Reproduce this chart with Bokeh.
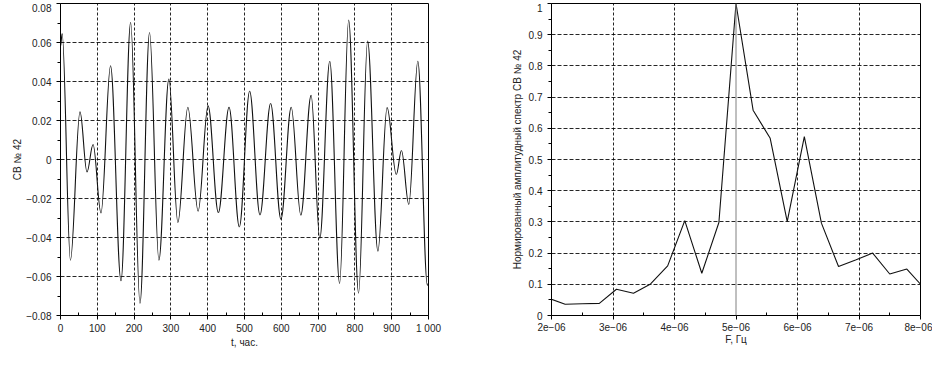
import numpy as np
from bokeh.plotting import figure
from bokeh.layouts import row
from bokeh.models import FixedTicker, CustomJSTickFormatter, Span, Range1d
from bokeh.embed import file_html
from bokeh.resources import INLINE

# ---------------- data ----------------
# Left panel: turning points of the series "СВ № 42" (time in hours, value)
t_hours = [0, 4.5, 27, 53, 72, 88.5, 110, 136, 164.4, 190.6, 216, 242, 267.4,
           294.5, 319, 346, 374, 401, 429, 458, 486, 514, 542, 571, 599, 627,
           653, 681, 704.6, 731.7, 758.5, 783, 810, 834.5, 862.5, 887.5, 912.5,
           926.5, 946.5, 971, 997, 1000]
sv42 = [0.058, 0.0646, -0.0516, 0.0244, -0.0064, 0.0077, -0.0274, 0.048,
        -0.0622, 0.0703, -0.0738, 0.0651, -0.0516, 0.0412, -0.0323, 0.0268,
        -0.0265, 0.0275, -0.0272, 0.0268, -0.0345, 0.035, -0.0284, 0.0287,
        -0.0306, 0.0268, -0.0285, 0.0329, -0.0404, 0.0504, -0.0635, 0.0715,
        -0.0685, 0.0607, -0.047, 0.0266, -0.0077, 0.0046, -0.023, 0.0504,
        -0.0644, -0.0635]

# Right panel: normalised amplitude spectrum
freq_hz = [1.944e-6, 2.222e-6, 2.5e-6, 2.778e-6, 3.056e-6, 3.333e-6, 3.611e-6,
           3.889e-6, 4.167e-6, 4.444e-6, 4.722e-6, 5.0e-6, 5.278e-6, 5.556e-6,
           5.833e-6, 6.111e-6, 6.389e-6, 6.667e-6, 6.944e-6, 7.222e-6, 7.5e-6,
           7.778e-6, 8.056e-6]
spectrum = [0.056, 0.036, 0.0375, 0.039, 0.084, 0.0715, 0.101, 0.159, 0.304,
            0.1355, 0.298, 1.0, 0.658, 0.568, 0.301, 0.573, 0.296, 0.157,
            0.178, 0.2, 0.133, 0.149, 0.088]
peak_freq = 5.0e-6

# ticks and labels
lx_ticks = [0, 100, 200, 300, 400, 500, 600, 700, 800, 900, 1000]
lx_labels = ["0", "100", "200", "300", "400", "500", "600", "700", "800", "900", "1 000"]
ly_ticks = [-0.08, -0.06, -0.04, -0.02, 0.0, 0.02, 0.04, 0.06, 0.08]
ly_labels = ["\u22120.08", "\u22120.06", "\u22120.04", "\u22120.02", "0", "0.02", "0.04", "0.06", "0.08"]
rx_ticks = [2e-6, 3e-6, 4e-6, 5e-6, 6e-6, 7e-6, 8e-6]
rx_labels = ["2e\u221206", "3e\u221206", "4e\u221206", "5e\u221206", "6e\u221206", "7e\u221206", "8e\u221206"]
ry_ticks = [0.0, 0.1, 0.2, 0.3, 0.4, 0.5, 0.6, 0.7, 0.8, 0.9, 1.0]
ry_labels = ["0", "0.1", "0.2", "0.3", "0.4", "0.5", "0.6", "0.7", "0.8", "0.9", "1"]

FONT = "Liberation Sans"
TXT = "#222222"


def midpoints(ticks):
    return [(a + b) / 2 for a, b in zip(ticks[:-1], ticks[1:])]


def fmt(ticks, labels):
    return CustomJSTickFormatter(args=dict(tvals=ticks, tlabels=labels), code="""
        for (let i = 0; i < tvals.length; i++) {
            if (Math.abs(tvals[i] - tick) <= 1e-9 * Math.max(Math.abs(tvals[i]), 1e-12)) return tlabels[i];
        }
        return "";
    """)


def style(p, xt, xl, yt, yl, xlabel, ylabel, xgrid, ygrid, ylab_standoff):
    p.background_fill_color = "white"
    p.border_fill_color = "white"
    p.outline_line_color = "black"
    p.outline_line_width = 1
    p.outline_line_alpha = 1
    xa, ya = p.xaxis[0], p.yaxis[0]
    xa.ticker = FixedTicker(ticks=xt, minor_ticks=midpoints(xt))
    ya.ticker = FixedTicker(ticks=yt, minor_ticks=midpoints(yt))
    xa.formatter = fmt(xt, xl)
    ya.formatter = fmt(yt, yl)
    for ax in (xa, ya):
        ax.axis_line_color = "black"
        ax.major_tick_line_color = "black"
        ax.minor_tick_line_color = "black"
        ax.major_label_text_font = FONT
        ax.major_label_text_font_size = "10px"
        ax.major_label_text_color = TXT
        ax.axis_label_text_font = FONT
        ax.axis_label_text_font_size = "10px"
        ax.axis_label_text_font_style = "normal"
        ax.axis_label_text_color = TXT
        ax.major_tick_in = 0
        ax.major_tick_out = 4
    xa.minor_tick_in = 3
    xa.minor_tick_out = 0
    ya.minor_tick_in = 0
    ya.minor_tick_out = 3
    xa.major_label_standoff = 3
    ya.major_label_standoff = 5
    xa.axis_label = xlabel
    ya.axis_label = ylabel
    xa.axis_label_standoff = 0
    ya.axis_label_standoff = ylab_standoff
    p.xgrid.ticker = FixedTicker(ticks=xgrid)
    p.ygrid.ticker = FixedTicker(ticks=ygrid)
    p.xgrid.grid_line_color = "black"
    p.xgrid.grid_line_dash = "3 2"
    p.xgrid.grid_line_alpha = 0.85
    p.ygrid.grid_line_color = "black"
    p.ygrid.grid_line_dash = "4 2"
    p.ygrid.grid_line_alpha = 0.85


# ---------------- left panel ----------------
p1 = figure(frame_width=368, frame_height=312,
            x_range=Range1d(0, 1000), y_range=Range1d(-0.08, 0.08),
            output_backend="svg", toolbar_location=None,
            min_border_left=40, min_border_right=15,
            min_border_top=0, min_border_bottom=45)
style(p1, lx_ticks, lx_labels, ly_ticks, ly_labels, "t, час.", "СВ № 42",
      lx_ticks[1:-1], ly_ticks[1:-1], 0)

# smooth curve through the turning points (cubic Bézier, flat tangents at extrema)
k = 0.364
t = np.array(t_hours, dtype=float)
v = np.array(sv42, dtype=float)
dt = t[1:] - t[:-1]
p1.bezier(x0=t[:-1], y0=v[:-1], x1=t[1:], y1=v[1:],
          cx0=t[:-1] + k * dt, cy0=v[:-1], cx1=t[1:] - k * dt, cy1=v[1:],
          line_color="#111111", line_width=1.1)

# ---------------- right panel ----------------
p2 = figure(frame_width=369, frame_height=312,
            x_range=Range1d(2e-6, 8e-6), y_range=Range1d(0, 1),
            output_backend="svg", toolbar_location=None,
            min_border_left=108, min_border_right=12,
            min_border_top=0, min_border_bottom=45)
style(p2, rx_ticks, rx_labels, ry_ticks, ry_labels, "F, Гц",
      "Нормированный амплитудный спектр СВ № 42",
      [x for x in rx_ticks[1:-1] if x != peak_freq], ry_ticks[1:-1], 3)
p2.add_layout(Span(location=peak_freq, dimension="height",
                   line_color="#808080", line_width=1))
p2.line(freq_hz, spectrum, line_color="#111111", line_width=1.1)

layout = row(p1, p2, margin=(3, 0, 0, 9))

with open("out.html", "w") as f:
    f.write(file_html(layout, INLINE))
